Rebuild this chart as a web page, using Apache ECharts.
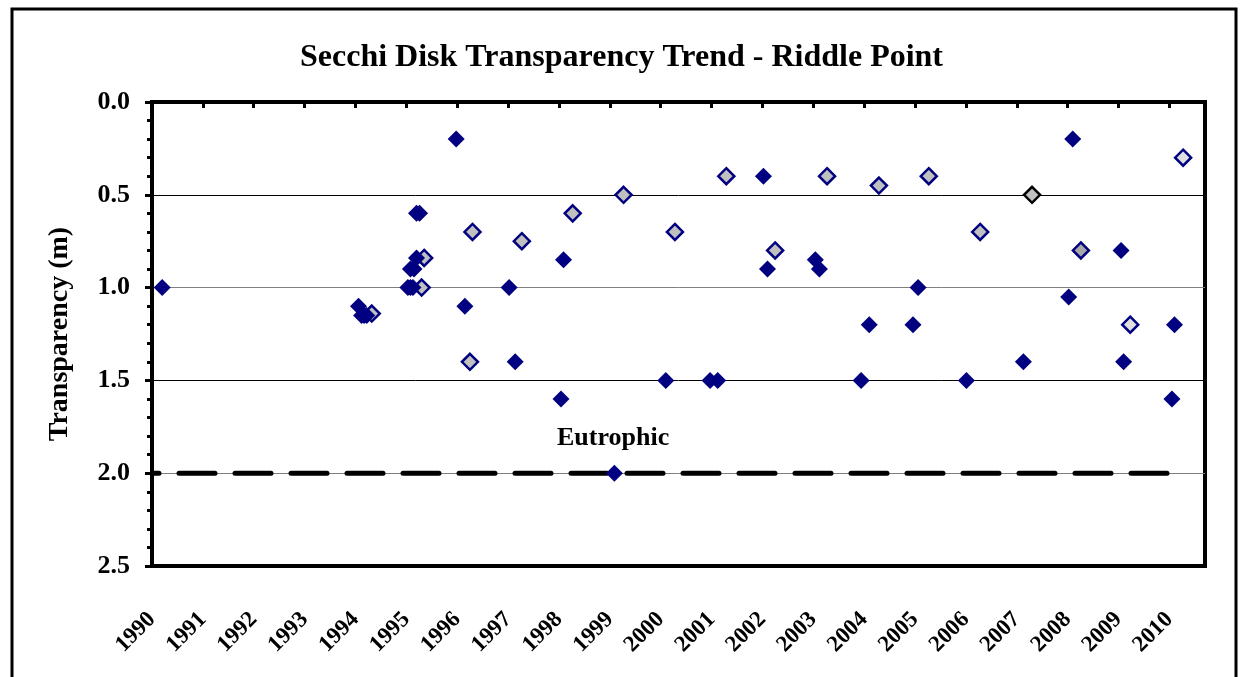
<!DOCTYPE html>
<html>
<head>
<meta charset="utf-8">
<title>Secchi Disk Transparency Trend - Riddle Point</title>
<script src="https://cdn.jsdelivr.net/npm/echarts@6/dist/echarts.min.js"></script>
<style>
  html, body { margin: 0; padding: 0; background: #fff; }
  #chart { width: 1243px; height: 677px; }
</style>
</head>
<body>
<div id="chart"></div>
<script>
// tick labels on the year axis
const yearTicks = [1990, 1991, 1992, 1993, 1994, 1995, 1996, 1997, 1998, 1999, 2000,
  2001, 2002, 2003, 2004, 2005, 2006, 2007, 2008, 2009, 2010]

// dark filled diamonds
const darkYears = [1990.2, 1994.06, 1994.12, 1994.17, 1994.22, 1995.03, 1995.08, 1995.13,
  1995.08, 1995.15, 1995.2, 1995.2, 1995.26, 1995.98, 1996.15, 1997.02, 1997.14,
  1998.04, 1998.09, 1999.09, 2000.1, 2000.97, 2001.12, 2002.02, 2002.1, 2003.04,
  2003.12, 2003.94, 2004.1, 2004.96, 2005.06, 2006.01, 2007.13, 2008.02, 2008.1,
  2009.05, 2009.1, 2010.05, 2010.1]
const darkValues = [1.0, 1.1, 1.15, 1.15, 1.15, 1.0, 1.0, 1.0,
  0.9, 0.9, 0.84, 0.6, 0.6, 0.2, 1.1, 1.0, 1.4,
  1.6, 0.85, 2.0, 1.5, 1.5, 1.5, 0.4, 0.9, 0.85,
  0.9, 1.5, 1.2, 1.2, 1.0, 1.5, 1.4, 1.05, 0.2,
  0.8, 1.4, 1.6, 1.2]

// light grey diamonds
const lightYears = [1994.32, 1995.3, 1995.35, 1996.25, 1996.3, 1997.27, 1998.27, 1999.27,
  2000.28, 2001.29, 2002.25, 2003.27, 2004.29, 2005.27, 2006.28, 2007.3, 2008.26,
  2009.23, 2010.27]
const lightValues = [1.14, 1.0, 0.84, 1.4, 0.7, 0.75, 0.6, 0.5,
  0.7, 0.4, 0.8, 0.4, 0.45, 0.4, 0.7, 0.5, 0.8,
  1.2, 0.3]

// eutrophic threshold line
const eutrophicYears = [1990, 2010.3]
const eutrophicLevel = 2.0

const serif = '"Liberation Serif", "Times New Roman", serif'

// a few light points drawn with a different shade in the original
const lightOverrides = {
  15: { color: '#c0c0c0', borderColor: '#000000' },
  16: { color: '#a8a8a8', borderColor: '#000080' },
  17: { color: '#e0e0e0', borderColor: '#000080' },
  18: { color: '#e0e0e0', borderColor: '#000080' },
}

const chart = echarts.init(document.getElementById('chart'))

const option = {
  backgroundColor: '#fff',
  animation: false,
  title: {
    text: 'Secchi Disk Transparency Trend - Riddle Point',
    left: 295,
    top: 37,
    textStyle: { fontFamily: serif, fontWeight: 'bold', fontSize: 32, color: '#000' },
  },
  graphic: [
    {
      type: 'rect',
      shape: { x: 12, y: 9, width: 1224, height: 700 },
      style: { fill: 'none', stroke: '#000', lineWidth: 3 },
      z: 100,
    },
    {
      type: 'text',
      left: 557,
      top: 425,
      style: { text: 'Eutrophic', fontFamily: serif, fontWeight: 'bold', fontSize: 26, fill: '#000' },
      z: 100,
    },
  ],
  grid: {
    left: 152,
    top: 102,
    right: 38,
    bottom: 111,
    show: true,
    borderColor: '#000',
    borderWidth: 4,
  },
  xAxis: {
    type: 'value',
    min: 1990,
    max: 2010.7,
    interval: 1,
    axisLine: { show: true, lineStyle: { color: '#000', width: 4 } },
    axisTick: {
      show: true,
      inside: false,
      length: 6,
      customValues: yearTicks,
      lineStyle: { color: '#000', width: 3 },
    },
    axisLabel: {
      customValues: yearTicks,
      rotate: 45,
      margin: 50,
      fontFamily: serif,
      fontWeight: 'bold',
      fontSize: 23,
      color: '#000',
      formatter: (v) => String(v),
    },
    splitLine: { show: false },
  },
  yAxis: {
    type: 'value',
    inverse: true,
    min: 0,
    max: 2.5,
    interval: 0.5,
    name: 'Transparency (m)',
    nameLocation: 'middle',
    nameGap: 78,
    nameTextStyle: { fontFamily: serif, fontWeight: 'bold', fontSize: 28, color: '#000' },
    axisLine: { show: true, lineStyle: { color: '#000', width: 4 } },
    axisTick: { show: true, inside: false, length: 7, lineStyle: { color: '#000', width: 3 } },
    minorTick: { show: true, splitNumber: 5, length: 5, lineStyle: { color: '#000', width: 3 } },
    axisLabel: {
      margin: 22,
      fontFamily: serif,
      fontWeight: 'bold',
      fontSize: 26,
      color: '#000',
      formatter: (v) => v.toFixed(1),
    },
    splitLine: { show: true, lineStyle: { color: ['#808080', '#000'], width: 1 } },
  },
  series: [
    {
      name: 'Eutrophic',
      type: 'line',
      data: eutrophicYears.map((y) => [y, eutrophicLevel]),
      symbol: 'none',
      lineStyle: { color: '#000', width: 5, type: [36, 20], dashOffset: 29, cap: 'round' },
      z: 1,
    },
    {
      name: 'Light',
      type: 'scatter',
      symbol: 'diamond',
      symbolSize: 16,
      data: lightYears.map((y, i) => {
        const item = { value: [y, lightValues[i]] }
        if (lightOverrides[i]) item.itemStyle = lightOverrides[i]
        return item
      }),
      itemStyle: { color: '#c0c0c0', borderColor: '#000080', borderWidth: 2.5, opacity: 1 },
      z: 3,
    },
    {
      name: 'Dark',
      type: 'scatter',
      symbol: 'diamond',
      symbolSize: 17,
      data: darkYears.map((y, i) => [y, darkValues[i]]),
      itemStyle: { color: '#000080', opacity: 1 },
      z: 4,
    },
  ],
}

chart.setOption(option)
</script>
</body>
</html>
